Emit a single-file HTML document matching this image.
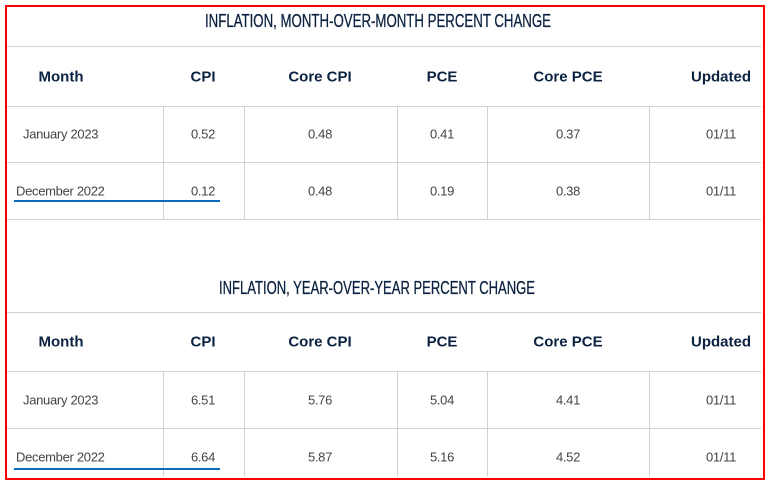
<!DOCTYPE html>
<html><head><meta charset="utf-8"><style>
body{margin:0;background:#fff;width:766px;height:482px;overflow:hidden;position:relative;font-family:"Liberation Sans",sans-serif}
.frame{position:absolute;left:5px;top:5px;width:756px;height:471px;border:2px solid #f00;box-sizing:content-box}
.h{position:absolute;left:7px;width:754px;height:1px;background:#cfd1d4}
.v{position:absolute;width:1px;background:#cfd1d4}
.t{position:absolute;transform:translate(-50%,-50%);white-space:nowrap}
.hd{font-weight:bold;color:#0b2240;font-size:15px}
.c{color:#444;font-size:13px;letter-spacing:-0.3px}
.l{position:absolute;transform:translateY(-50%);color:#444;font-size:13px;letter-spacing:-0.3px;white-space:nowrap}
.u{position:absolute;height:2px;background:#0a6bbd;left:14px;width:206px}
svg{position:absolute;left:0;top:0}
</style></head><body>
<div class="frame"></div>
<svg width="766" height="482">
<text x="378" y="27" text-anchor="middle" textLength="346" lengthAdjust="spacingAndGlyphs" font-family="Liberation Sans" font-size="18" fill="#0b2240" stroke="#0b2240" stroke-width="0.3">INFLATION, MONTH-OVER-MONTH PERCENT CHANGE</text>
<text x="377" y="294" text-anchor="middle" textLength="316" lengthAdjust="spacingAndGlyphs" font-family="Liberation Sans" font-size="18" fill="#0b2240" stroke="#0b2240" stroke-width="0.3">INFLATION, YEAR-OVER-YEAR PERCENT CHANGE</text>
</svg>

<!-- section 1 -->
<div class="h" style="top:46px"></div>
<div class="h" style="top:106px"></div>
<div class="h" style="top:162px"></div>
<div class="h" style="top:219px"></div>
<div class="v" style="left:163px;top:107px;height:112px"></div>
<div class="v" style="left:244px;top:107px;height:112px"></div>
<div class="v" style="left:397px;top:107px;height:112px"></div>
<div class="v" style="left:487px;top:107px;height:112px"></div>
<div class="v" style="left:649px;top:107px;height:112px"></div>
<div class="t hd" style="left:61px;top:77px">Month</div>
<div class="t hd" style="left:203px;top:77px">CPI</div>
<div class="t hd" style="left:320px;top:77px">Core CPI</div>
<div class="t hd" style="left:442px;top:77px">PCE</div>
<div class="t hd" style="left:568px;top:77px">Core PCE</div>
<div class="t hd" style="left:721px;top:77px">Updated</div>
<div class="l" style="left:23px;top:134px">January 2023</div>
<div class="t c" style="left:203px;top:134px">0.52</div>
<div class="t c" style="left:320px;top:134px">0.48</div>
<div class="t c" style="left:442px;top:134px">0.41</div>
<div class="t c" style="left:568px;top:134px">0.37</div>
<div class="t c" style="left:721px;top:134px">01/11</div>
<div class="l" style="left:16px;top:191px">December 2022</div>
<div class="t c" style="left:203px;top:191px">0.12</div>
<div class="t c" style="left:320px;top:191px">0.48</div>
<div class="t c" style="left:442px;top:191px">0.19</div>
<div class="t c" style="left:568px;top:191px">0.38</div>
<div class="t c" style="left:721px;top:191px">01/11</div>
<div class="u" style="top:200px"></div>

<!-- section 2 -->
<div class="h" style="top:312px"></div>
<div class="h" style="top:371px"></div>
<div class="h" style="top:428px"></div>
<div class="v" style="left:163px;top:372px;height:104px"></div>
<div class="v" style="left:244px;top:372px;height:104px"></div>
<div class="v" style="left:397px;top:372px;height:104px"></div>
<div class="v" style="left:487px;top:372px;height:104px"></div>
<div class="v" style="left:649px;top:372px;height:104px"></div>
<div class="t hd" style="left:61px;top:342px">Month</div>
<div class="t hd" style="left:203px;top:342px">CPI</div>
<div class="t hd" style="left:320px;top:342px">Core CPI</div>
<div class="t hd" style="left:442px;top:342px">PCE</div>
<div class="t hd" style="left:568px;top:342px">Core PCE</div>
<div class="t hd" style="left:721px;top:342px">Updated</div>
<div class="l" style="left:23px;top:400px">January 2023</div>
<div class="t c" style="left:203px;top:400px">6.51</div>
<div class="t c" style="left:320px;top:400px">5.76</div>
<div class="t c" style="left:442px;top:400px">5.04</div>
<div class="t c" style="left:568px;top:400px">4.41</div>
<div class="t c" style="left:721px;top:400px">01/11</div>
<div class="l" style="left:16px;top:457px">December 2022</div>
<div class="t c" style="left:203px;top:457px">6.64</div>
<div class="t c" style="left:320px;top:457px">5.87</div>
<div class="t c" style="left:442px;top:457px">5.16</div>
<div class="t c" style="left:568px;top:457px">4.52</div>
<div class="t c" style="left:721px;top:457px">01/11</div>
<div class="u" style="top:468px"></div>
</body></html>
